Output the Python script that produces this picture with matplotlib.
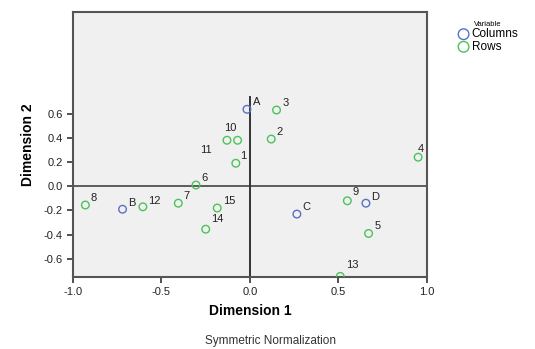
import matplotlib
matplotlib.use("Agg")
import matplotlib.pyplot as plt

plt.rcParams['font.family'] = ['Liberation Sans', 'DejaVu Sans']
plt.rcParams['axes.unicode_minus'] = False

# Column points
col_labels = ["A", "B", "C", "D"]
col_x = [-0.017, -0.72, 0.265, 0.655]
col_y = [0.636, -0.19, -0.23, -0.14]

# Row points
row_labels = ["1", "2", "3", "4", "5", "6", "7", "8", "9", "10",
              "11", "12", "13", "14", "15"]
row_x = [-0.08, 0.12, 0.15, 0.95, 0.67, -0.305, -0.405, -0.93, 0.55, -0.07,
         -0.13, -0.605, 0.51, -0.25, -0.185]
row_y = [0.19, 0.39, 0.63, 0.24, -0.39, 0.01, -0.14, -0.155, -0.12, 0.38,
         0.38, -0.17, -0.745, -0.355, -0.18]

# label offsets in points (dx, dy)
col_off = {"A": (4, 3), "B": (4, 2), "C": (4, 3), "D": (4, 2)}
row_off = {"10": (-10, 7), "11": (-19, -9), "1": (3, 3), "6": (4, 3),
           "14": (4, 5), "15": (4, 3), "12": (4, 2), "7": (4, 3),
           "8": (4, 3), "9": (4, 4), "13": (4, 6), "4": (0, 4),
           "2": (4, 3), "3": (4, 3), "5": (4, 3)}

blue = "#5b6fc8"
green = "#4cc35a"

fig = plt.figure(figsize=(5.35, 3.49), dpi=100)
ax = fig.add_axes([0.1364, 0.2063, 0.6617, 0.7593])
ax.set_facecolor("#f0f0f0")

ax.axhline(0, color="#333333", lw=1.1, zorder=1)
ax.plot([0, 0], [-0.75, 0.74], color="#333333", lw=1.4, zorder=1)

ax.scatter(col_x, col_y, s=30, facecolors="none", edgecolors=blue,
           linewidths=1.0, label="Columns", zorder=3)
ax.scatter(row_x, row_y, s=30, facecolors="none", edgecolors=green,
           linewidths=1.0, label="Rows", zorder=3)

for lab, x, y in zip(col_labels, col_x, col_y):
    ax.annotate(lab, (x, y), xytext=col_off[lab], textcoords="offset points",
                fontsize=8, color="#222222")
for lab, x, y in zip(row_labels, row_x, row_y):
    ax.annotate(lab, (x, y), xytext=row_off[lab], textcoords="offset points",
                fontsize=8, color="#222222")

ax.set_xlim(-1.0, 1.0)
ax.set_ylim(-0.75, 1.44)
ax.set_xticks([-1.0, -0.5, 0.0, 0.5, 1.0])
ax.set_yticks([-0.6, -0.4, -0.2, 0.0, 0.2, 0.4, 0.6])
ax.tick_params(direction="out", length=4, width=1.2, labelsize=8,
               color="#333333", labelcolor="#222222")
for sp in ax.spines.values():
    sp.set_color("#555555")
    sp.set_linewidth(1.5)

ax.set_xlabel("Dimension 1", fontsize=10, fontweight="bold", labelpad=5)
ax.set_ylabel("Dimension 2", fontsize=10, fontweight="bold", labelpad=6)

fig.text(0.505, 0.005, "Symmetric Normalization", ha="center", va="bottom",
         fontsize=8.5, color="#333333")

leg = ax.legend(title="Variable", loc="upper left", bbox_to_anchor=(1.07, 0.985),
                frameon=False, fontsize=8.5, title_fontsize=5.5,
                handletextpad=0.1, borderaxespad=0, labelspacing=0.05,
                handlelength=1.2, markerscale=1.4)

fig.savefig("out.png", dpi=100)
